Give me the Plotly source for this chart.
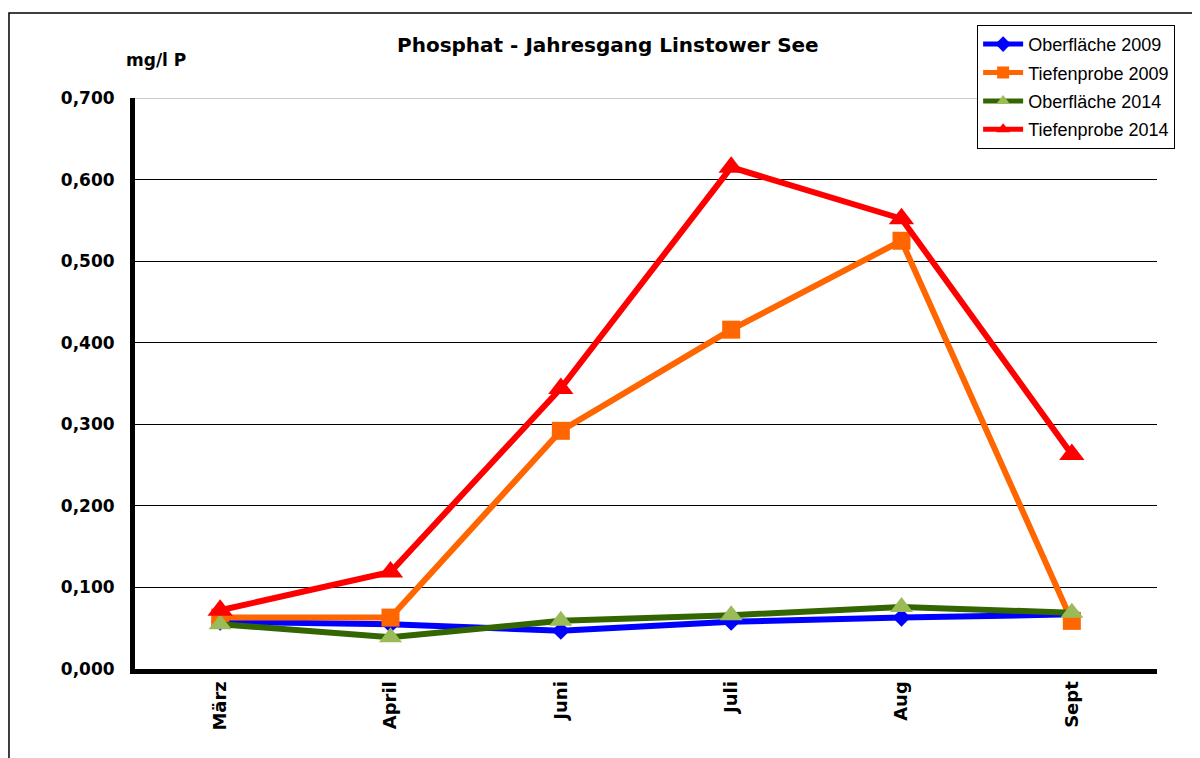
import plotly.graph_objects as go

# Monate der Probenahme
monate = ["März", "April", "Juni", "Juli", "Aug", "Sept"]

# Phosphat in mg/l P
oberflaeche_2009 = [0.058, 0.055, 0.047, 0.058, 0.063, 0.067]
tiefenprobe_2009 = [0.063, 0.063, 0.292, 0.416, 0.525, 0.059]
oberflaeche_2014 = [0.055, 0.039, 0.059, 0.066, 0.076, 0.069]
tiefenprobe_2014 = [0.072, 0.119, 0.344, 0.615, 0.552, 0.263]

y_ticks = [0.0, 0.1, 0.2, 0.3, 0.4, 0.5, 0.6, 0.7]

BOLD = "DejaVu Sans, Arial, sans-serif"
PLAIN = "Liberation Sans, Arial, sans-serif"

fig = go.Figure()

fig.add_trace(
    go.Scatter(
        x=monate,
        y=oberflaeche_2009,
        mode="lines+markers",
        name="Oberfläche 2009",
        legendgroup="a",
        line=dict(color="#0000FF", width=6),
        marker=dict(symbol="diamond", size=14, color="#0000FF"),
    )
)
fig.add_trace(
    go.Scatter(
        x=monate,
        y=tiefenprobe_2009,
        mode="lines+markers",
        name="Tiefenprobe 2009",
        legendgroup="b",
        line=dict(color="#FF6600", width=6),
        marker=dict(symbol="square", size=18, color="#FF6600"),
    )
)
fig.add_trace(
    go.Scatter(
        x=monate,
        y=oberflaeche_2014,
        mode="lines+markers",
        name="Oberfläche 2014",
        legendgroup="c",
        line=dict(color="#336600", width=6),
        marker=dict(symbol="triangle-up", size=20, color="#9BBB59"),
    )
)
fig.add_trace(
    go.Scatter(
        x=monate,
        y=tiefenprobe_2014,
        mode="lines+markers",
        name="Tiefenprobe 2014",
        legendgroup="d",
        line=dict(color="#FF0000", width=6),
        marker=dict(symbol="triangle-up", size=22, color="#FF0000"),
    )
)

# Rahmen um das Diagramm und graue Linie oben
fig.add_shape(
    type="rect", xref="paper", yref="paper",
    x0=-0.1233, x1=1.1, y0=-0.3, y1=1.1489,
    line=dict(color="black", width=1.5), layer="below",
)
fig.add_shape(
    type="line", xref="paper", yref="y",
    x0=0, x1=1, y0=0.7, y1=0.7,
    line=dict(color="#BBBBBB", width=1.5), layer="below",
)

fig.add_annotation(
    text="<b>Phosphat - Jahresgang Linstower See</b>",
    xref="paper", yref="paper", x=0.463, y=1.093,
    xanchor="center", yanchor="middle",
    showarrow=False, font=dict(family=BOLD, size=20, color="black"),
)
fig.add_annotation(
    text="<b>mg/l P</b>",
    xref="paper", yref="paper", x=0.021, y=1.066,
    xanchor="center", yanchor="middle",
    showarrow=False, font=dict(family=BOLD, size=17, color="black"),
)

fig.update_xaxes(
    range=[-0.5, 5.5],
    showline=True, linewidth=5, linecolor="black",
    showgrid=False, tickangle=-90,
    tickfont=dict(family=BOLD, size=18, color="black", weight="bold"),
)
fig.update_yaxes(
    range=[0, 0.7], tickvals=y_ticks, tickformat=".3f",
    showline=True, linewidth=5, linecolor="black",
    showgrid=True, gridcolor="black", gridwidth=1,
    zeroline=False, ticklabelstandoff=12,
    tickfont=dict(family=BOLD, size=17, color="black", weight="bold"),
)

fig.update_layout(
    width=1192,
    height=750,
    margin=dict(l=127, r=43, t=90, b=89),
    paper_bgcolor="white",
    plot_bgcolor="white",
    separators=", ",
    hovermode=False,
    legend=dict(
        x=0.824, y=1.128, xanchor="left", yanchor="top",
        bordercolor="black", borderwidth=1, bgcolor="white",
        font=dict(family=PLAIN, size=18, color="black"),
        tracegroupgap=2, itemwidth=40, itemsizing="constant",
    ),
)

fig.write_html("out.html")
